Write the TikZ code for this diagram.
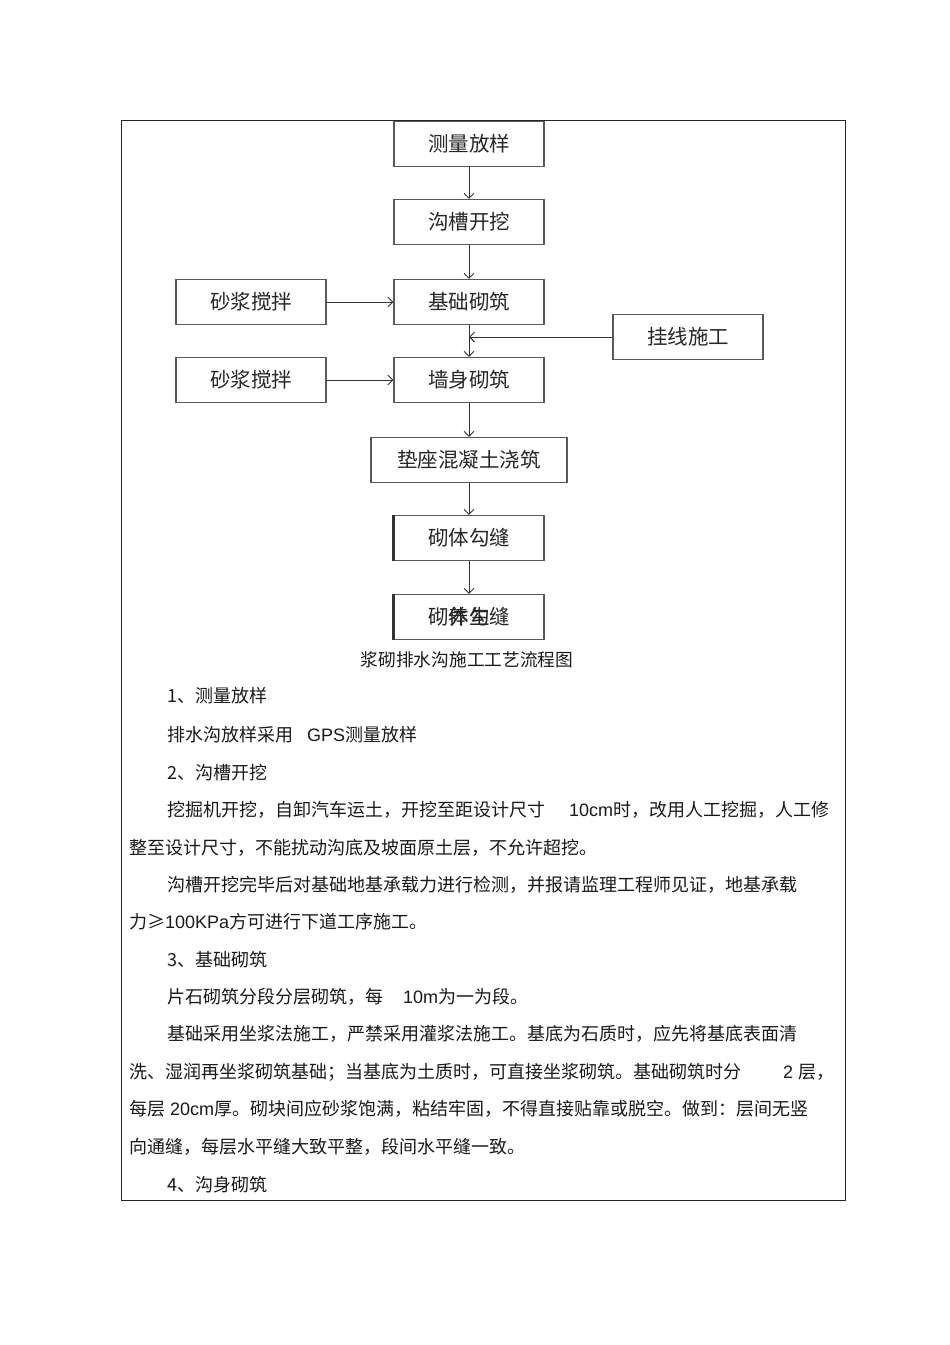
\documentclass[tikz,border=0pt]{standalone}
\usepackage{fontspec}
\setmainfont{Liberation Sans}
\newfontfamily\cjk{Noto Sans CJK SC}
\newfontfamily\lat{Liberation Sans}
\usetikzlibrary{arrows.meta}
\newcommand\LT[1]{{\lat #1}}
\tikzset{
  flowbox/.style={draw=black!65, line width=1.1pt, minimum width=150pt, minimum height=45pt, inner sep=0pt,
    font=\cjk\fontsize{20.5}{20.5}\selectfont, text=black!85},
  link/.style={draw=black!80, line width=0.9pt, -{Straight Barb[length=5pt,width=10pt,line width=0.9pt]}},
  bodytext/.style={anchor=west, inner sep=0pt, font=\cjk\fontsize{18}{18}\selectfont, text=black!90},
}
\begin{document}
\begin{tikzpicture}[x=1pt,y=-1pt]
\useasboundingbox (0,0) rectangle (950,1345);
% outer frame
\draw[line width=1pt, black!85] (121,120) rectangle (845,1200);

% flow boxes
\node[flowbox] (m1) at (469,144) {测量放样};
\node[flowbox] (m2) at (469,222) {沟槽开挖};
\node[flowbox] (m3) at (469,302) {基础砌筑};
\node[flowbox] (s1) at (251,302) {砂浆搅拌};
\node[flowbox] (gx) at (688,337) {挂线施工};
\node[flowbox] (m4) at (469,380) {墙身砌筑};
\node[flowbox] (s2) at (251,380) {砂浆搅拌};
\node[flowbox, minimum width=196pt] (m5) at (469,460) {垫座混凝土浇筑};
\node[flowbox] (m6) at (469,538) {砌体勾缝};
\node[flowbox] (m7) at (469,617) {砌体勾缝};
\node[inner sep=0pt, font=\cjk\fontsize{20.5}{20.5}\selectfont, text=black!85] (m7b) at (m7.center) {养生};

% thick left edges
\draw[line width=2.2pt, black!80] (m6.north west) -- (m6.south west);
\draw[line width=2.2pt, black!80] (m7.north west) -- (m7.south west);

% connectors
\coordinate (jn) at (469,337);
\draw[link] (m1) -- (m2);
\draw[link] (m2) -- (m3);
\draw[link] (s1) -- (m3);
\draw[link] (m3) -- (m4);
\draw[link] (gx.west) -- (jn);
\draw[link] (s2) -- (m4);
\draw[link] (m4) -- (m5);
\draw[link] (m5) -- (m6);
\draw[link] (m6) -- (m7);

% caption
\node[inner sep=0pt, font=\cjk\fontsize{17.7}{17.7}\selectfont, text=black!90] (cap) at (467,660) {浆砌排水沟施工工艺流程图};

% body text
\node[bodytext] (t1) at (167,696) {1、测量放样};
\node[bodytext] (t2) at (167,735) {排水沟放样采用\hspace{14pt}\LT{GPS}测量放样};
\node[bodytext] (t3) at (167,773) {2、沟槽开挖};
\node[bodytext] (t4) at (167,810) {挖掘机开挖，自卸汽车运土，开挖至距设计尺寸\hspace{24pt}\LT{10cm}时，改用人工挖掘，人工修};
\node[bodytext] (t5) at (129,848) {整至设计尺寸，不能扰动沟底及坡面原土层，不允许超挖。};
\node[bodytext] (t6) at (167,885) {沟槽开挖完毕后对基础地基承载力进行检测，并报请监理工程师见证，地基承载};
\node[bodytext] (t7) at (129,922) {力≥\LT{100KPa}方可进行下道工序施工。};
\node[bodytext] (t8) at (167,960) {3、基础砌筑};
\node[bodytext] (t9) at (167,997) {片石砌筑分段分层砌筑，每\hspace{20pt}\LT{10m}为一为段。};
\node[bodytext] (t10) at (167,1034) {基础采用坐浆法施工，严禁采用灌浆法施工。基底为石质时，应先将基底表面清};
\node[bodytext] (t11) at (129,1072) {洗、湿润再坐浆砌筑基础；当基底为土质时，可直接坐浆砌筑。基础砌筑时分\hspace{42pt}\LT{2}\hspace{5pt}层，};
\node[bodytext] (t12) at (129,1109) {每层\hspace{5pt}\LT{20cm}厚。砌块间应砂浆饱满，粘结牢固，不得直接贴靠或脱空。做到：层间无竖};
\node[bodytext] (t13) at (129,1147) {向通缝，每层水平缝大致平整，段间水平缝一致。};
\node[bodytext] (t14) at (167,1185) {4、沟身砌筑};
\end{tikzpicture}
\end{document}
